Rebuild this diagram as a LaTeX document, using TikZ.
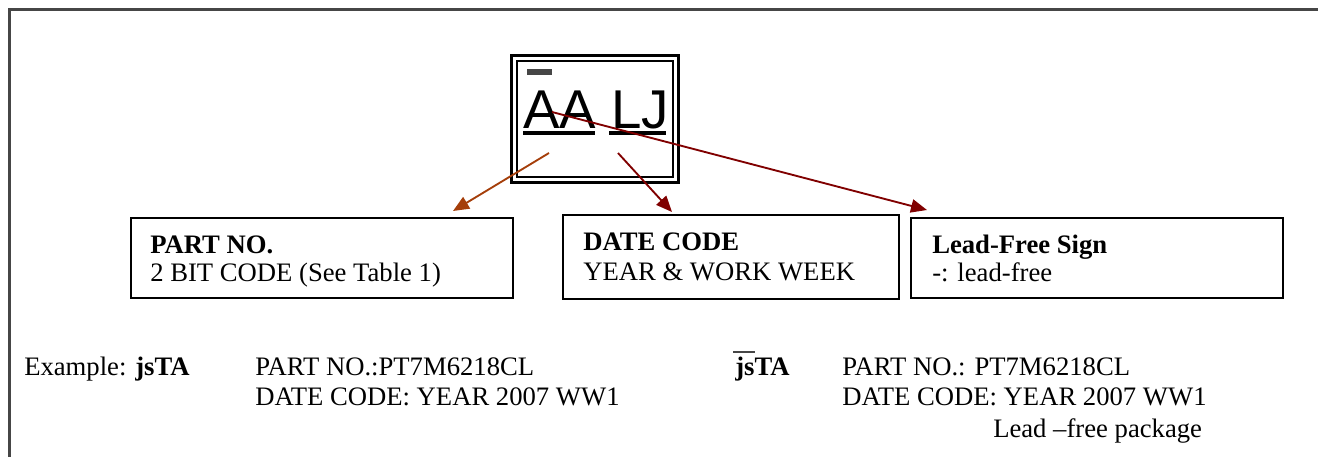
\documentclass[tikz,border=0pt]{standalone}
\usepackage{fontspec}
\setmainfont{Liberation Serif}
\newfontfamily\arialfont{Liberation Sans}
\usetikzlibrary{arrows.meta}
\definecolor{markbrown}{RGB}{165,62,10}
\definecolor{markred}{RGB}{128,0,0}
\definecolor{framegray}{RGB}{70,70,70}
\tikzset{
  infobox/.style={draw, line width=1.5pt, anchor=north west, inner sep=0pt},
  txt/.style={anchor=base west, inner sep=0pt, font=\fontsize{20}{24}\selectfont},
  markarrow/.style={line width=1.4pt, -{Triangle[length=12pt,width=10pt]}},
}
\begin{document}
\begin{tikzpicture}[x=0.75pt,y=-0.75pt]
\useasboundingbox (0,0) rectangle (1318,457);
\draw[framegray, line width=1.6pt] (9.5,457) -- (9.5,9.5) -- (1318,9.5);

\node[infobox, line width=2pt, minimum width=125.25pt, minimum height=95.25pt] (markout) at (510,54){};
\node[infobox, minimum width=117pt, minimum height=87pt] (markin) at (516,60){};
\node[anchor=base west, inner sep=0pt, font=\arialfont\fontsize{41}{41}\selectfont] (marktext) at (523,128){AA LJ};
\fill[black] (523,131) rectangle (595,135);
\fill[black] (609,131) rectangle (666,135);
\fill[framegray] (527,69) rectangle (552,75);

\node[infobox, minimum width=286.5pt, minimum height=60pt] (partbox) at (130,217){};
\node[txt] (partT1) at (150,253){\textbf{PART NO.}};
\node[txt] (partT2) at (150,281){2 BIT CODE (See Table 1)};
\node[infobox, minimum width=252pt, minimum height=63pt] (datebox) at (562,214){};
\node[txt] (dateT1) at (583,250){\textbf{DATE CODE}};
\node[txt] (dateT2) at (583,280){YEAR \& WORK WEEK};
\node[infobox, minimum width=279pt, minimum height=60pt] (leadbox) at (910,217){};
\node[txt] (leadT1) at (932,253){\textbf{Lead-Free Sign}};
\node[txt] (leadT2) at (932,281){-: lead-free};

\coordinate (partsrc) at (549,153);
\coordinate (datesrc) at (618,153);
\coordinate (leadsrc) at (552,112);
\coordinate (parttip) at (453,211);
\coordinate (datetip) at (672,212);
\coordinate (leadtip) at (927,210);
\draw[markarrow, markbrown](partsrc) -- (parttip);
\draw[markarrow, markred](datesrc) -- (datetip);
\draw[markarrow, markred](leadsrc) -- (leadtip);

\node[txt] (ex1) at (24,375){Example: \textbf{jsTA}};
\node[txt] (ex2) at (255,375){PART NO.:PT7M6218CL};
\node[txt] (ex3) at (255,405){DATE CODE: YEAR 2007 WW1};
\node[txt] (ex4) at (735,375){\textbf{jsTA}};
\draw[framegray, line width=2.2pt] (733,352) -- (755,352);
\node[txt] (ex5) at (842,375){PART NO.: PT7M6218CL};
\node[txt] (ex6) at (842,405){DATE CODE: YEAR 2007 WW1};
\node[txt] (ex7) at (993,437){Lead –free package};

\end{tikzpicture}
\end{document}
